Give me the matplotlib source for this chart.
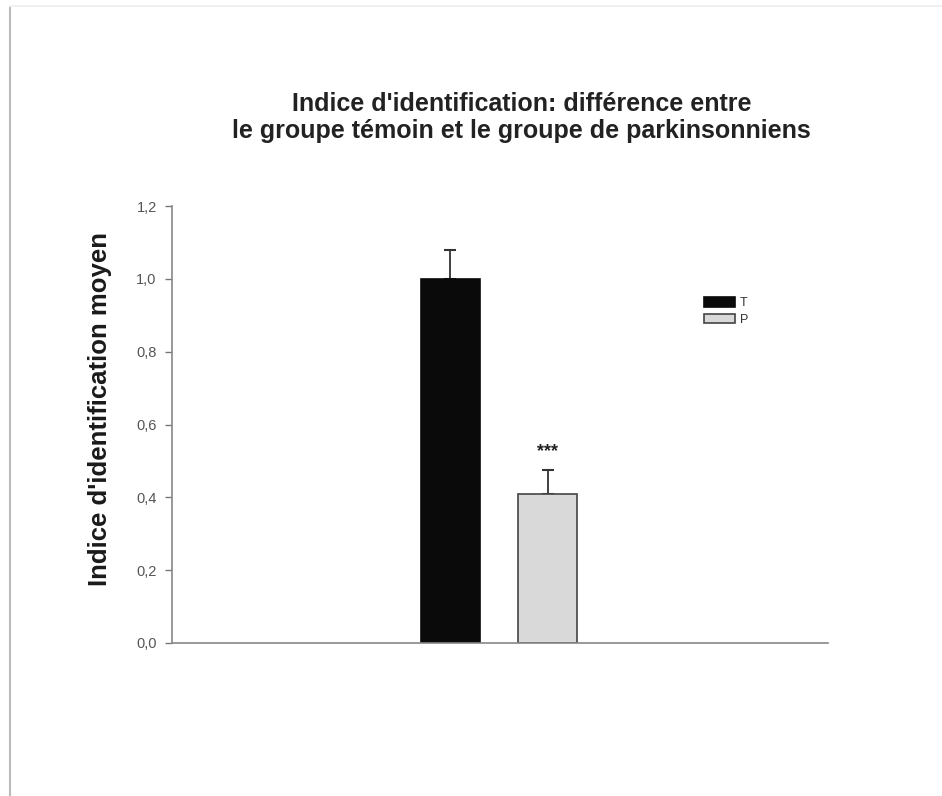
import numpy as np
import matplotlib.pyplot as plt
from matplotlib.lines import Line2D

# Données
groupes = ['T', 'P']
moyennes = [1.00, 0.41]
erreurs = [0.08, 0.065]
couleurs = ['#0a0a0a', '#d9d9d9']
yticks = [0.0, 0.2, 0.4, 0.6, 0.8, 1.0, 1.2]
ytick_labels = ['0,0', '0,2', '0,4', '0,6', '0,8', '1,0', '1,2']

plt.rcParams['font.family'] = ['Liberation Sans', 'DejaVu Sans']

fig = plt.figure(figsize=(9.42, 7.96), dpi=100)
ax = fig.add_axes([172 / 942, 1 - 643 / 796, 656 / 942, (643 - 206) / 796])

# positions des barres (en fraction de l'axe x)
pos = [0.424, 0.573]
largeur = 0.09

bars = ax.bar(pos, moyennes, width=largeur, color=couleurs,
              edgecolor=['#0a0a0a', '#444444'], linewidth=1.2, zorder=2)

ax.errorbar(pos, moyennes, yerr=[[0, 0], erreurs], fmt='none',
            ecolor='#333333', elinewidth=1.3, capsize=4.5, capthick=1.5, zorder=1)

# significativité
ax.text(pos[1], moyennes[1] + erreurs[1] + 0.028, '***', ha='center', va='bottom',
        fontsize=13, fontweight='bold', color='#222222')

ax.set_xlim(0, 1)
ax.set_ylim(0, 1.2)
ax.set_yticks(yticks)
ax.set_yticklabels(ytick_labels)
ax.set_xticks([])
ax.tick_params(axis='y', direction='out', length=5, width=1, colors='#777777',
               labelcolor='#555555', labelsize=10.5, pad=6)

for s in ['top', 'right']:
    ax.spines[s].set_visible(False)
for s in ['left', 'bottom']:
    ax.spines[s].set_color('#888888')
    ax.spines[s].set_linewidth(1.2)

fig.text(100 / 942, 1 - 409 / 796, "Indice d'identification moyen", rotation=90,
         ha='center', va='center', fontsize=18.5, fontweight='bold', color='#1a1a1a')

fig.text(0.554, 1 - 117.5 / 796, "Indice d'identification: différence entre\nle groupe témoin et le groupe de parkinsonniens",
         ha='center', va='center', fontsize=18, fontweight='bold',
         color='#222222', linespacing=1.15)

leg = ax.legend(handles=list(bars), labels=groupes, loc='upper left',
                bbox_to_anchor=(0.803, 0.803), frameon=False, fontsize=9,
                handlelength=2.5, handleheight=0.8, labelspacing=0.35,
                handletextpad=0.4, borderaxespad=0)
for t in leg.get_texts():
    t.set_color('#333333')

# cadre de la capture
fig.add_artist(Line2D([10 / 942, 10 / 942], [0, 1 - 8 / 796], color='#bbbbbb',
                      lw=1.5, transform=fig.transFigure))
fig.add_artist(Line2D([10 / 942, 1], [1 - 6 / 796, 1 - 6 / 796], color='#eeeeee',
                      lw=1.2, transform=fig.transFigure))

plt.savefig('out.png', dpi=100)
